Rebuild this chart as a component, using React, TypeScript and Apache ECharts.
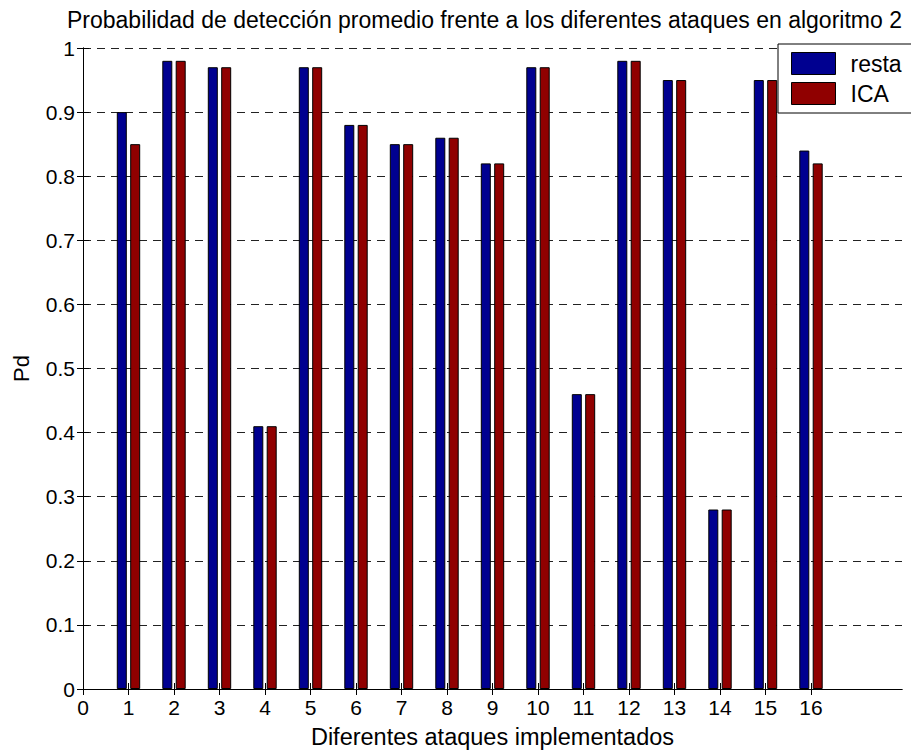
import { useEffect, useRef } from "react";
import * as echarts from "echarts";

// Attack index on the x axis and the mean detection probability per method
const attacks = [1, 2, 3, 4, 5, 6, 7, 8, 9, 10, 11, 12, 13, 14, 15, 16];
const resta = [0.9, 0.98, 0.97, 0.41, 0.97, 0.88, 0.85, 0.86, 0.82, 0.97, 0.46, 0.98, 0.95, 0.28, 0.95, 0.84];
const ica = [0.85, 0.98, 0.97, 0.41, 0.97, 0.88, 0.85, 0.86, 0.82, 0.97, 0.46, 0.98, 0.95, 0.28, 0.95, 0.82];
const xTicks = [0, 1, 2, 3, 4, 5, 6, 7, 8, 9, 10, 11, 12, 13, 14, 15, 16];

const FONT = "'Liberation Sans', Arial, Helvetica, sans-serif";
const BLUE = "#000090";
const RED = "#900000";

export default function App() {
  const ref = useRef<HTMLDivElement>(null);

  useEffect(() => {
    if (!ref.current) return;
    const chart = echarts.init(ref.current, null, { renderer: "svg" });

    const tickStyle = { show: true, inside: true, length: 6, lineStyle: { color: "#000", width: 1 } };
    const lineStyle = { show: true, lineStyle: { color: "#000", width: 1 } };

    chart.setOption({
      animation: false,
      backgroundColor: "#fff",
      textStyle: { fontFamily: FONT },
      title: {
        text: "Probabilidad de detección promedio frente a los diferentes ataques en algoritmo 2",
        left: 67,
        top: 8,
        padding: 0,
        textStyle: { fontFamily: FONT, fontSize: 23, fontWeight: "normal", color: "#000" },
      },
      legend: {
        orient: "vertical",
        left: 778,
        top: 44,
        itemWidth: 44,
        itemHeight: 22,
        itemGap: 7,
        padding: [8, 60, 8, 13],
        borderColor: "#000",
        borderWidth: 1,
        backgroundColor: "#fff",
        icon: "rect",
        z: 10,
        textStyle: { fontFamily: FONT, fontSize: 23, color: "#000", padding: [0, 0, 0, 10] },
        itemStyle: { borderColor: "#000", borderWidth: 1 },
        data: ["resta", "ICA"],
      },
      grid: { left: 83, top: 48, width: 819, height: 645.5, containLabel: false },
      xAxis: [
        {
          type: "value",
          position: "bottom",
          min: 0,
          max: 18,
          interval: 1,
          name: "Diferentes ataques implementados",
          nameLocation: "middle",
          nameGap: 36,
          nameTextStyle: { fontFamily: FONT, fontSize: 23.5, color: "#000" },
          axisLine: lineStyle,
          axisTick: { ...tickStyle, customValues: xTicks },
          axisLabel: {
            customValues: xTicks,
            margin: 8,
            fontFamily: FONT,
            fontSize: 21,
            color: "#000",
          },
          splitLine: { show: false },
        },
        {
          type: "value",
          position: "top",
          min: 0,
          max: 18,
          interval: 1,
          axisLine: lineStyle,
          axisTick: { ...tickStyle, customValues: xTicks },
          axisLabel: { show: false },
          splitLine: { show: false },
        },
      ],
      yAxis: [
        {
          type: "value",
          position: "left",
          min: 0,
          max: 1,
          interval: 0.1,
          name: "Pd",
          nameLocation: "middle",
          nameGap: 51,
          nameTextStyle: { fontFamily: FONT, fontSize: 22, color: "#000" },
          axisLine: lineStyle,
          axisTick: tickStyle,
          axisLabel: {
            margin: 8,
            fontFamily: FONT,
            fontSize: 21,
            color: "#000",
            formatter: (v: number) => String(Number(v.toFixed(1))),
          },
          splitLine: {
            show: true,
            lineStyle: { color: "#222", width: 1, type: [8, 6] },
          },
        },
        {
          type: "value",
          position: "right",
          min: 0,
          max: 1,
          interval: 0.1,
          axisLine: lineStyle,
          axisTick: tickStyle,
          axisLabel: { show: false },
          splitLine: { show: false },
        },
      ],
      series: [
        {
          name: "resta",
          type: "bar",
          xAxisIndex: 0,
          yAxisIndex: 0,
          barWidth: 10,
          barGap: "34%",
          itemStyle: { color: BLUE, borderColor: "#000", borderWidth: 1 },
          data: attacks.map((a, i) => [a, resta[i]]),
        },
        {
          name: "ICA",
          type: "bar",
          xAxisIndex: 0,
          yAxisIndex: 0,
          barWidth: 10,
          barGap: "34%",
          itemStyle: { color: RED, borderColor: "#000", borderWidth: 1 },
          data: attacks.map((a, i) => [a, ica[i]]),
        },
      ],
    });

    return () => chart.dispose();
  }, []);

  return (
    <div
      ref={ref}
      style={{ position: "absolute", left: 0, top: 0, width: 911, height: 754, background: "#fff" }}
    />
  );
}
